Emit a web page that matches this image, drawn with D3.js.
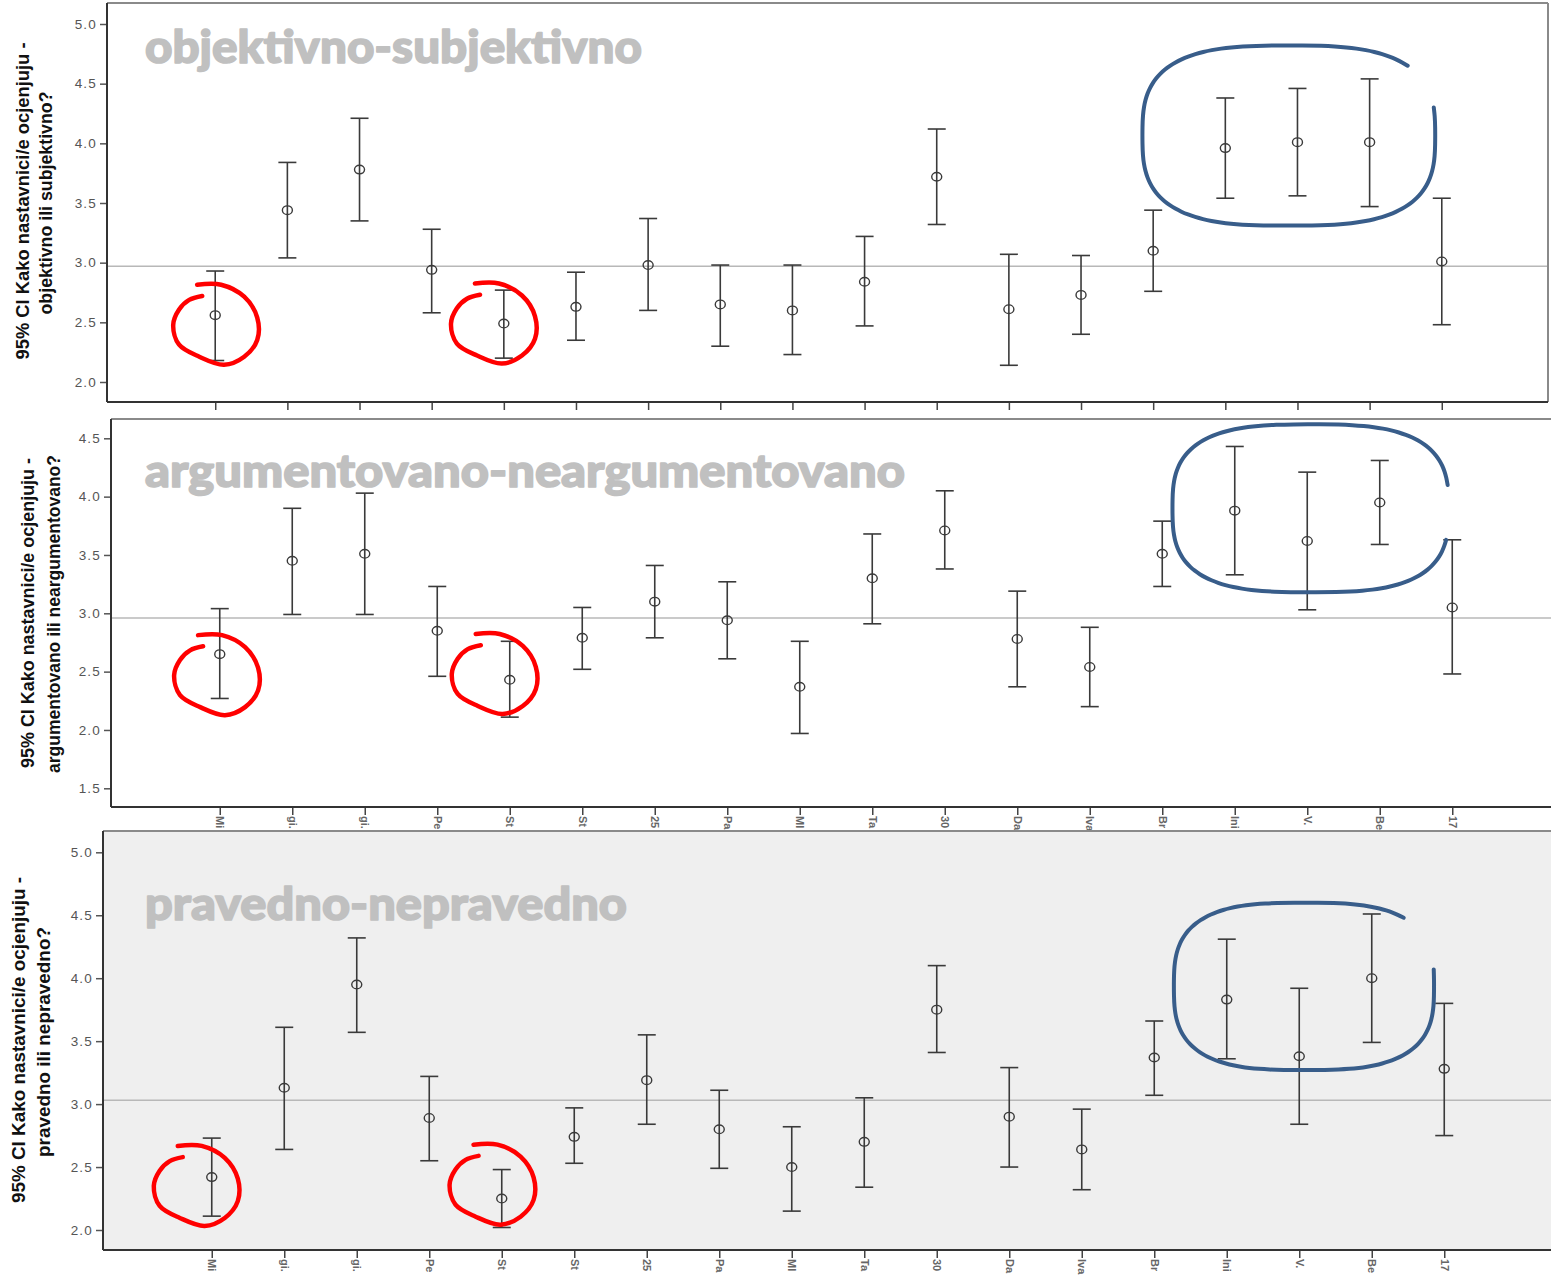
<!DOCTYPE html>
<html><head><meta charset="utf-8">
<script src="https://cdn.jsdelivr.net/npm/d3@7"></script>
<style>body{margin:0;background:#fff}svg{display:block}</style>
</head><body><svg id="c" width="1551" height="1280"></svg>
<script>
// ---------- data ----------
const categories = ["Mi","gi.","gi.","Pe","St","St","25","Pa","MI","Ta","30","Da","Iva","Br","Ini","V.","Be","17"];
const titles = ["objektivno-subjektivno","argumentovano-neargumentovano","pravedno-nepravedno"];
const axisTitle1 = ["95% CI Kako nastavnici/e ocjenjuju -","objektivno ili subjektivno?"];
const axisTitle2 = ["95% CI Kako nastavnici/e ocjenjuju -","argumentovano ili neargumentovano?"];
const axisTitle3 = ["95% CI Kako nastavnici/e ocjenjuju -","pravedno ili nepravedno?"];
const yTicks1 = [2.0,2.5,3.0,3.5,4.0,4.5,5.0];
const yTicks2 = [1.5,2.0,2.5,3.0,3.5,4.0,4.5];
const yTicks3 = [2.0,2.5,3.0,3.5,4.0,4.5,5.0];

const mean1 = [2.56,3.44,3.78,2.94,2.49,2.63,2.98,2.65,2.60,2.84,3.72,2.61,2.73,3.10,3.96,4.01,4.01,3.01];
const low1  = [2.18,3.04,3.35,2.58,2.20,2.35,2.60,2.30,2.23,2.47,3.32,2.14,2.40,2.76,3.54,3.56,3.47,2.48];
const high1 = [2.93,3.84,4.21,3.28,2.77,2.92,3.37,2.98,2.98,3.22,4.12,3.07,3.06,3.44,4.38,4.46,4.54,3.54];

const mean2 = [2.65,3.45,3.51,2.85,2.43,2.79,3.10,2.94,2.37,3.30,3.71,2.78,2.54,3.51,3.88,3.62,3.95,3.05];
const low2  = [2.27,2.99,2.99,2.46,2.11,2.52,2.79,2.61,1.97,2.91,3.38,2.37,2.20,3.23,3.33,3.03,3.59,2.48];
const high2 = [3.04,3.90,4.03,3.23,2.76,3.05,3.41,3.27,2.76,3.68,4.05,3.19,2.88,3.79,4.43,4.21,4.31,3.63];

const mean3 = [2.42,3.13,3.95,2.89,2.25,2.74,3.19,2.80,2.50,2.70,3.75,2.90,2.64,3.37,3.83,3.38,4.00,3.28];
const low3  = [2.11,2.64,3.57,2.55,2.02,2.53,2.84,2.49,2.15,2.34,3.41,2.50,2.32,3.07,3.36,2.84,3.49,2.75];
const high3 = [2.73,3.61,4.32,3.22,2.48,2.97,3.55,3.11,2.82,3.05,4.10,3.29,2.96,3.66,4.31,3.92,4.51,3.80];

const refValues = [2.97, 2.96, 3.03];

// hand-drawn annotations (category index offset, value)
const redMarks1 = [{cat:0, dx:0.0, v:2.48},{cat:4, dx:-0.15, v:2.49}];
const redMarks2 = [{cat:0, dx:-0.05, v:2.47},{cat:4, dx:-0.22, v:2.48}];
const redMarks3 = [{cat:0, dx:-0.22, v:2.35},{cat:4, dx:-0.14, v:2.36}];
const blueMark1 = {from:12.85, to:16.91, top:4.82, bottom:3.31, gapTop:4.65, gapBottom:4.30};
const blueMark2 = {from:13.14, to:16.95, top:4.62, bottom:3.18, gapTop:4.10, gapBottom:3.63};
const blueMark3 = {from:13.27, to:16.86, top:4.60, bottom:3.27, gapTop:4.48, gapBottom:4.07};

// ---------- layout ----------
const panels = [
  {mean:mean1, low:low1, high:high1, ticks:yTicks1, title:titles[0], axisTitle:axisTitle1, ref:refValues[0],
   red:redMarks1, blue:blueMark1, titleW:497, atLen:[317,223],
   fx0:107, fx1:1548, fy0:3, fy1:402, yDom:[2,5], yRng:[382,24], xRng:[107,1550], bg:"#ffffff",
   labels:false, atX:[22,45], atY:[201,203], titleY:63},
  {mean:mean2, low:low2, high:high2, ticks:yTicks2, title:titles[1], axisTitle:axisTitle2, ref:refValues[1],
   red:redMarks2, blue:blueMark2, titleW:760, atLen:[310,318],
   fx0:111, fx1:1552, fy0:419, fy1:807, yDom:[1.5,4.5], yRng:[788.3,438.3], xRng:[111,1561], bg:"#ffffff",
   labels:true, atX:[27,53], atY:[613,614], titleY:487},
  {mean:mean3, low:low3, high:high3, ticks:yTicks3, title:titles[2], axisTitle:axisTitle3, ref:refValues[2],
   red:redMarks3, blue:blueMark3, titleW:482, atLen:[326,230],
   fx0:103, fx1:1552, fy0:831, fy1:1250, yDom:[2,5], yRng:[1230,852.3], xRng:[103,1553], bg:"#efefef",
   labels:true, atX:[18,43], atY:[1040,1042], titleY:920}
];

const svg = d3.select("#c");
const idx = d3.range(categories.length);

const redTemplate = [[-0.43,-1.0],[0.14,-1.0],[0.69,-0.7],[1.0,-0.18],[1.0,0.38],[0.69,0.8],[0.21,1.0],
  [-0.38,0.8],[-0.86,0.5],[-1.0,0.0],[-0.86,-0.38],[-0.62,-0.62],[-0.31,-0.72]];

panels.forEach((p) => {
  const g = svg.append("g");
  const x = d3.scalePoint().domain(idx).range(p.xRng).padding(1.5);
  const y = d3.scaleLinear().domain(p.yDom).range(p.yRng);
  const step = x.step();

  // background
  g.append("rect").attr("x", p.fx0).attr("y", p.fy0).attr("width", p.fx1 - p.fx0).attr("height", p.fy1 - p.fy0)
    .attr("fill", p.bg);

  // reference line
  g.append("line").attr("x1", p.fx0).attr("x2", p.fx1).attr("y1", y(p.ref)).attr("y2", y(p.ref))
    .attr("stroke", "#b8b8b8").attr("stroke-width", 1.5);

  // title
  g.append("text").attr("x", 145).attr("y", p.titleY).text(p.title)
    .attr("font-family", "Lato, 'Open Sans', sans-serif").attr("font-weight", 900)
    .attr("font-size", 46).attr("fill", "#c0c0c0")
    .attr("stroke", "#c0c0c0").attr("stroke-width", 1.6).attr("stroke-linejoin", "round")
    .attr("textLength", p.titleW).attr("lengthAdjust", "spacingAndGlyphs");

  // frame
  g.append("line").attr("x1", p.fx0).attr("x2", p.fx1).attr("y1", p.fy0).attr("y2", p.fy0).attr("stroke", "#8a8a8a").attr("stroke-width", 2);
  g.append("line").attr("x1", p.fx1).attr("x2", p.fx1).attr("y1", p.fy0).attr("y2", p.fy1).attr("stroke", "#8a8a8a").attr("stroke-width", 2);

  // y axis
  const yAxis = d3.axisLeft(y).tickValues(p.ticks).tickFormat(d3.format(".1f")).tickSize(7).tickSizeOuter(0);
  const ya = g.append("g").attr("transform", `translate(${p.fx0},0)`).call(yAxis);
  ya.select(".domain").remove();
  ya.selectAll(".tick line").attr("stroke", "#555").attr("stroke-width", 1.5);
  ya.selectAll(".tick text").attr("font-family", "'Liberation Sans', Arial, sans-serif").attr("font-size", 13.5)
    .attr("letter-spacing", 1.2).attr("fill", "#555").attr("x", -10);

  // x axis
  const xAxis = d3.axisBottom(x).tickFormat(i => p.labels ? categories[i] : "").tickSize(8).tickSizeOuter(0);
  const xa = g.append("g").attr("transform", `translate(0,${p.fy1})`).call(xAxis);
  xa.select(".domain").remove();
  xa.selectAll(".tick line").attr("stroke", "#444").attr("stroke-width", 1.5);
  xa.selectAll(".tick text").attr("font-family", "'Liberation Sans', Arial, sans-serif").attr("font-size", 11)
    .attr("font-weight", "bold").attr("fill", "#666").attr("transform", "rotate(90)").attr("text-anchor", "start")
    .attr("x", 9).attr("y", 0).attr("dy", "0.35em");

  g.append("line").attr("x1", p.fx0).attr("x2", p.fx0).attr("y1", p.fy0).attr("y2", p.fy1).attr("stroke", "#333").attr("stroke-width", 2);
  g.append("line").attr("x1", p.fx0).attr("x2", p.fx1).attr("y1", p.fy1).attr("y2", p.fy1).attr("stroke", "#333").attr("stroke-width", 2);

  // axis title
  p.axisTitle.forEach((t, k) => {
    g.append("text").attr("font-family", "'Liberation Sans Narrow', 'Arial Narrow', 'Liberation Sans', sans-serif")
      .attr("font-weight", "bold").attr("font-size", 19).attr("fill", "#111").attr("text-anchor", "middle")
      .attr("transform", `translate(${p.atX[k] + 7},${p.atY[k]}) rotate(-90)`)
      .attr("textLength", p.atLen[k]).attr("lengthAdjust", "spacingAndGlyphs")
      .text(t);
  });

  // error bars
  const eb = g.append("g").attr("stroke", "#3a3a3a").attr("stroke-width", 1.6).attr("fill", "none");
  idx.forEach(i => {
    const cx = x(i);
    eb.append("line").attr("x1", cx).attr("x2", cx).attr("y1", y(p.low[i])).attr("y2", y(p.high[i]));
    eb.append("line").attr("x1", cx - 9).attr("x2", cx + 9).attr("y1", y(p.low[i])).attr("y2", y(p.low[i]));
    eb.append("line").attr("x1", cx - 9).attr("x2", cx + 9).attr("y1", y(p.high[i])).attr("y2", y(p.high[i]));
    eb.append("ellipse").attr("cx", cx).attr("cy", y(p.mean[i])).attr("rx", 5).attr("ry", 4.3).attr("stroke-width", 1.4);
  });

  // red annotations
  const lineGen = d3.line().curve(d3.curveCatmullRom.alpha(0.5));
  p.red.forEach(m => {
    const cx = x(m.cat) + m.dx * step, cy = y(m.v);
    const pts = redTemplate.map(([u, v]) => [cx + u * 42, cy + v * 40]);
    g.append("path").attr("d", lineGen(pts)).attr("fill", "none").attr("stroke", "#ff0000")
      .attr("stroke-width", 4.5).attr("stroke-linecap", "round").attr("stroke-linejoin", "round");
  });

  // blue annotation (superellipse open on the right)
  const b = p.blue;
  const xl = x(0) + b.from * step, xr = x(0) + b.to * step;
  const yt = y(b.top), yb = y(b.bottom);
  const bcx = (xl + xr) / 2, bcy = (yt + yb) / 2, rx = (xr - xl) / 2, ry = (yb - yt) / 2;
  const n = 3.0;
  const angFor = (val) => {
    const s = (bcy - y(val)) / ry;
    return Math.asin(Math.sign(s) * Math.pow(Math.abs(s), n / 2));
  };
  const a0 = angFor(b.gapTop), a1 = 2 * Math.PI + angFor(b.gapBottom);
  const bpts = d3.range(0, 81).map(k => {
    const t = a0 + (a1 - a0) * k / 80;
    const c = Math.cos(t), s = Math.sin(t);
    return [bcx + rx * Math.sign(c) * Math.pow(Math.abs(c), 2 / n),
            bcy - ry * Math.sign(s) * Math.pow(Math.abs(s), 2 / n)];
  });
  g.append("path").attr("d", d3.line().curve(d3.curveBasis)(bpts)).attr("fill", "none")
    .attr("stroke", "#385d8a").attr("stroke-width", 4).attr("stroke-linecap", "round");
});
</script>
</body></html>
